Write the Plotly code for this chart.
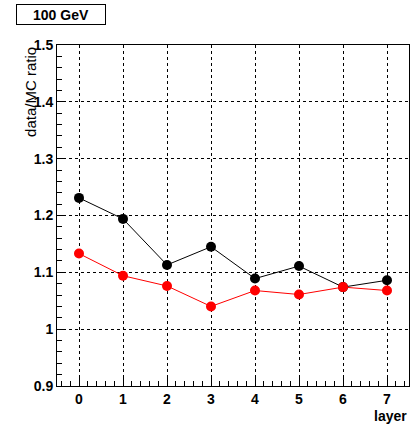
import plotly.graph_objects as go

layers = [0, 1, 2, 3, 4, 5, 6, 7]
black_ratio = [1.231, 1.194, 1.113, 1.145, 1.089, 1.111, 1.074, 1.086]
red_ratio = [1.133, 1.094, 1.076, 1.040, 1.068, 1.061, 1.074, 1.068]
y_tick_vals = [0.9, 1.0, 1.1, 1.2, 1.3, 1.4, 1.5]
y_tick_text = ["0.9", "1", "1.1", "1.2", "1.3", "1.4", "1.5"]
x_tick_text = ["0", "1", "2", "3", "4", "5", "6", "7"]

FONT = "Liberation Sans, Arial, Helvetica, sans-serif"

fig = go.Figure()
fig.add_trace(go.Scatter(x=layers, y=black_ratio, mode="lines+markers",
                         line=dict(color="black", width=1),
                         marker=dict(color="black", size=10), showlegend=False))
fig.add_trace(go.Scatter(x=layers, y=red_ratio, mode="lines+markers",
                         line=dict(color="#ff0000", width=1),
                         marker=dict(color="#ff0000", size=10), showlegend=False))

axis_common = dict(showline=True, linecolor="black", linewidth=1, mirror=True,
                   ticks="inside", tickcolor="black", ticklen=8, tickwidth=1,
                   showgrid=True, gridcolor="black", gridwidth=1, griddash="3px,3px",
                   zeroline=False,
                   tickfont=dict(family=FONT, size=14, color="black", weight="bold"))

fig.update_xaxes(range=[-0.5, 7.5], tickvals=layers, ticktext=x_tick_text,
                 minor=dict(dtick=0.2, tick0=0, ticks="inside", ticklen=5,
                            tickcolor="black", showgrid=False),
                 **axis_common)
fig.update_yaxes(range=[0.9, 1.5], tickvals=y_tick_vals, ticktext=y_tick_text,
                 minor=dict(dtick=0.02, tick0=0.9, ticks="inside", ticklen=5,
                            tickcolor="black", showgrid=False),
                 ticklabelstandoff=0,
                 **axis_common)

fig.add_annotation(text="data/MC ratio", textangle=-90, xref="paper", yref="paper",
                   x=-0.077, y=1.0, xanchor="center", yanchor="top", showarrow=False,
                   font=dict(family=FONT, size=15, color="black"))
fig.add_annotation(text="layer", xref="paper", yref="paper", x=1.0, y=-0.088,
                   xanchor="right", yanchor="middle", showarrow=False,
                   font=dict(family=FONT, size=14, color="black", weight="bold"))
fig.add_annotation(text="100 GeV", xref="paper", yref="paper", x=-0.1165, y=1.12,
                   xanchor="left", yanchor="top", showarrow=False,
                   bordercolor="black", borderwidth=1, borderpad=1,
                   width=86, height=17, bgcolor="white",
                   font=dict(family=FONT, size=14, color="black", weight="bold"))

fig.update_layout(width=412, height=425, margin=dict(l=57, r=3, t=45, b=39),
                  paper_bgcolor="white", plot_bgcolor="white")

fig.write_html("out.html", config={"displayModeBar": False},
               post_script="document.body.style.margin='0';document.body.style.overflow='hidden';")
